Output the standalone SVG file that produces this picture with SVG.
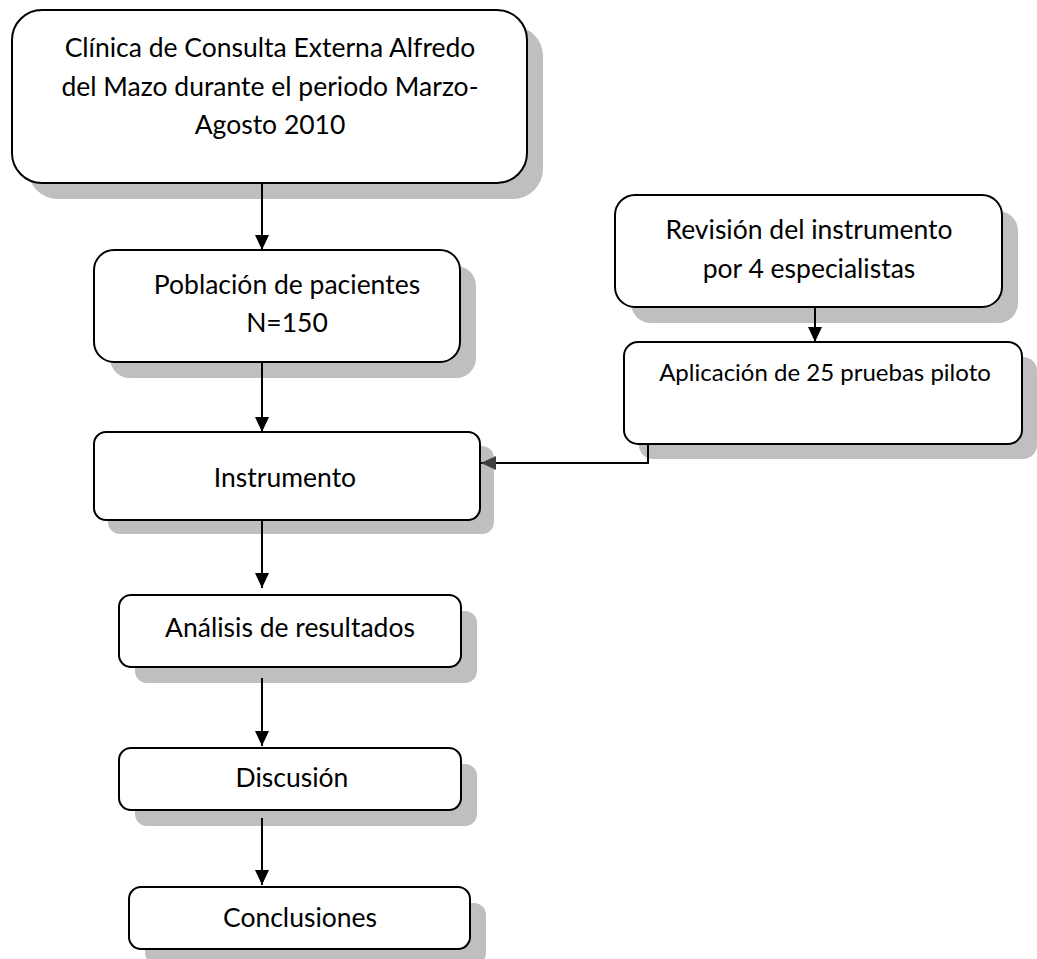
<svg xmlns="http://www.w3.org/2000/svg" width="1037" height="959" viewBox="0 0 1037 959">
<style>
.sh{fill:#bfbfbf;stroke:none}
.bx{fill:#fff;stroke:#000;stroke-width:2}
text{font-family:Lato,"Liberation Sans",sans-serif;font-size:26.5px;fill:#000;text-anchor:middle}
.sm{font-size:24px}
.cn{fill:none;stroke:#000;stroke-width:2}
</style>
<defs>
<marker id="ah" markerWidth="15" markerHeight="14" refX="15" refY="7" orient="auto" markerUnits="userSpaceOnUse" viewBox="0 0 15 14">
<path d="M0,0 L15,7 L0,14 Z" fill="#000"/>
</marker>
<marker id="ahg" markerWidth="15" markerHeight="14" refX="15" refY="7" orient="auto" markerUnits="userSpaceOnUse" viewBox="0 0 15 14">
<path d="M0,0 L15,7 L0,14 Z" fill="#404040"/>
</marker>
</defs>
<g id="n1">
<rect class="sh" x="28" y="26" width="515" height="173" rx="30"/>
<rect class="bx" x="12" y="10" width="515" height="173" rx="30"/>
<text x="270" y="57">Clínica de Consulta Externa Alfredo</text>
<text x="270" y="96">del Mazo durante el periodo Marzo-</text>
<text x="270" y="134">Agosto 2010</text>
</g>
<g id="n2">
<rect class="sh" x="110" y="266" width="366" height="112" rx="20"/>
<rect class="bx" x="94" y="250" width="366" height="112" rx="20"/>
<text x="287" y="294">Población de pacientes</text>
<text x="287" y="332">N=150</text>
</g>
<g id="n3">
<rect class="sh" x="108" y="446" width="386" height="88" rx="12"/>
<rect class="bx" x="94" y="432" width="386" height="88" rx="12"/>
<text x="285" y="487">Instrumento</text>
</g>
<g id="n4">
<rect class="sh" x="631" y="211" width="387" height="112" rx="20"/>
<rect class="bx" x="615" y="195" width="387" height="112" rx="20"/>
<text x="809" y="239">Revisión del instrumento</text>
<text x="809" y="278">por 4 especialistas</text>
</g>
<g id="n5">
<rect class="sh" x="639" y="357" width="398" height="102" rx="14"/>
<rect class="bx" x="624" y="342" width="398" height="102" rx="14"/>
<text class="sm" x="825" y="381">Aplicación de 25 pruebas piloto</text>
</g>
<g id="n6">
<rect class="sh" x="135" y="611" width="342" height="72" rx="12"/>
<rect class="bx" x="119" y="595" width="342" height="72" rx="12"/>
<text x="290" y="637">Análisis de resultados</text>
</g>
<g id="n7">
<rect class="sh" x="135" y="764" width="342" height="62" rx="12"/>
<rect class="bx" x="119" y="748" width="342" height="62" rx="12"/>
<text x="292" y="787">Discusión</text>
</g>
<g id="n8">
<rect class="sh" x="145" y="903" width="341" height="62" rx="12"/>
<rect class="bx" x="129" y="887" width="341" height="62" rx="12"/>
<text x="300" y="927">Conclusiones</text>
</g>
<g id="connectors">
<line class="cn" x1="262" y1="183" x2="262" y2="250" marker-end="url(#ah)"/>
<line class="cn" x1="262" y1="362" x2="262" y2="432" marker-end="url(#ah)"/>
<line class="cn" x1="815" y1="307" x2="815" y2="342" marker-end="url(#ah)"/>
<path class="cn" d="M815,444 H648 V463 H481" marker-end="url(#ahg)"/>
<line class="cn" x1="262" y1="520" x2="262" y2="588" marker-end="url(#ah)"/>
<line class="cn" x1="262" y1="678" x2="262" y2="746" marker-end="url(#ah)"/>
<line class="cn" x1="262" y1="818" x2="262" y2="885" marker-end="url(#ah)"/>
</g>
</svg>
